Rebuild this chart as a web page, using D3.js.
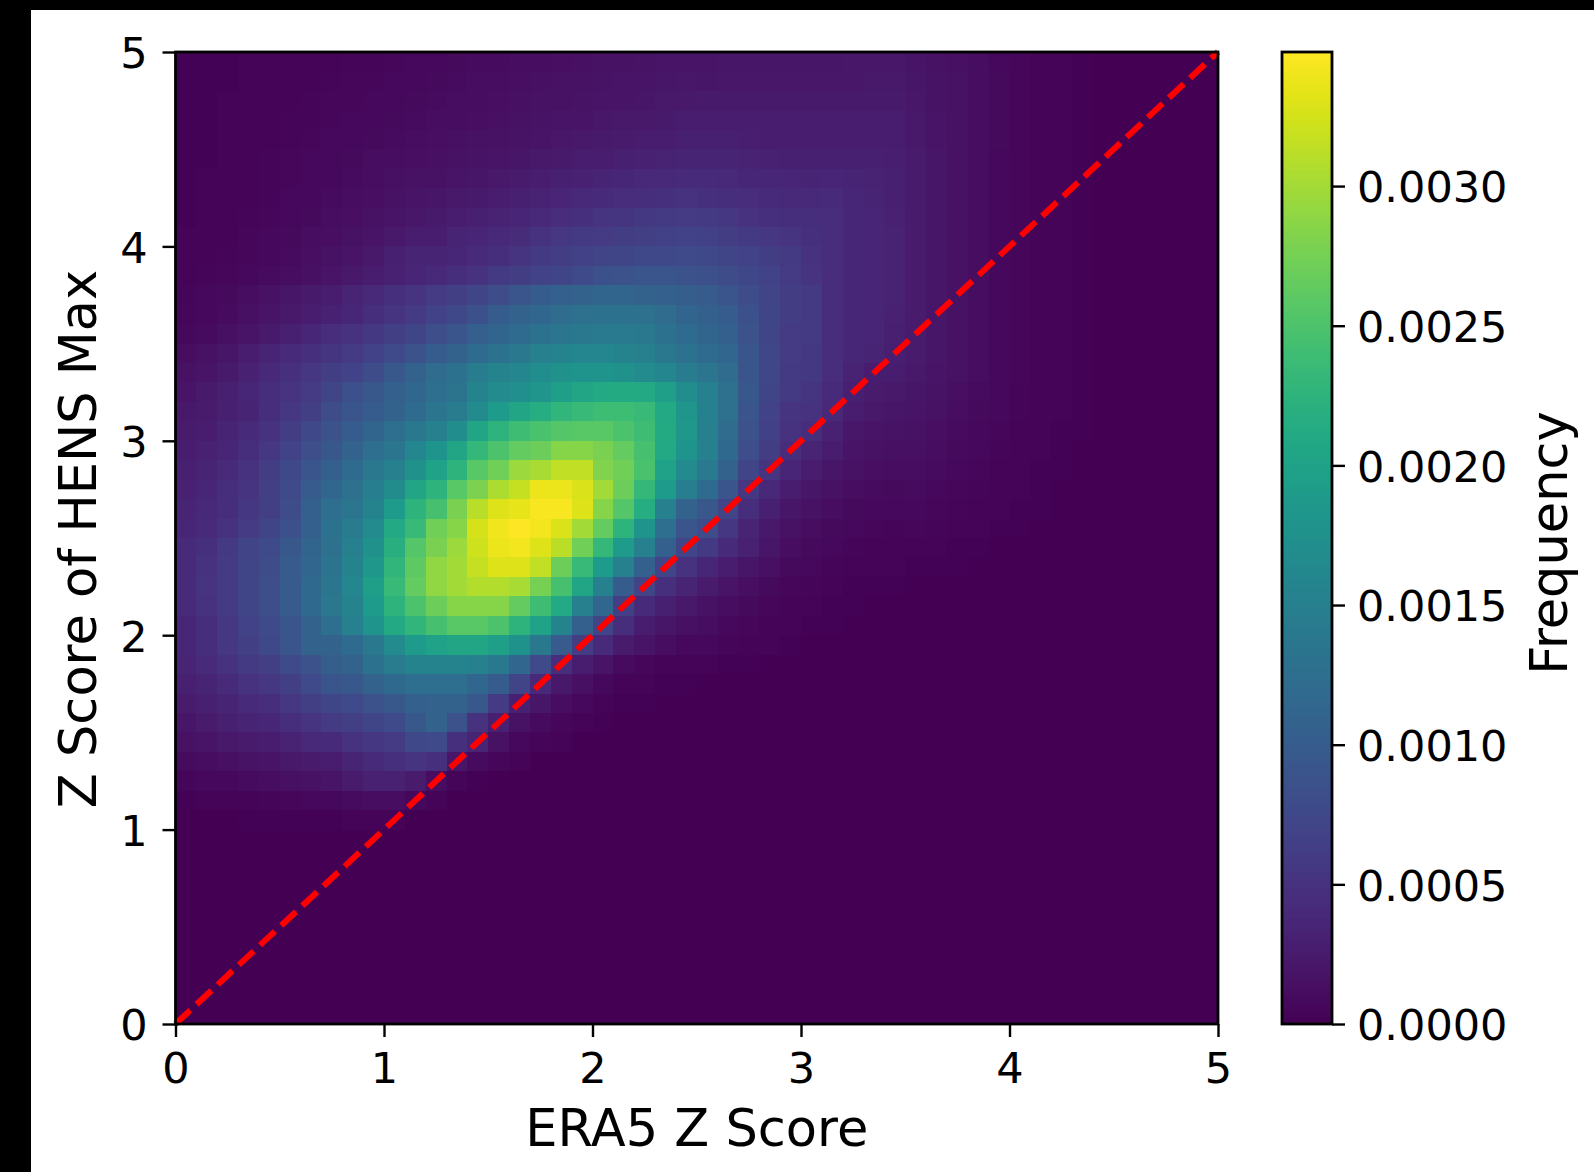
<!DOCTYPE html>
<html>
  <head>
    <meta charset="utf-8">
    <title>HENS Max vs ERA5 Z Score</title>
    <style>
      html, body { margin: 0; padding: 0; background: #fff; }
      svg { display: block; }
      text { font-family: "DejaVu Sans", sans-serif; fill: #000; }
    </style>
  </head>
  <body>
    <div id="chart"></div>

    <script src="https://d3js.org/d3.v7.min.js"></script>
    <script>
      // bin edges, 0.1 wide, 50 per axis
      const binStarts = d3.range(50).map(i => i / 10);
      const axisTicks = [0, 1, 2, 3, 4, 5];
      const colorTicks = [0, 0.0005, 0.001, 0.0015, 0.002, 0.0025, 0.003];
      const colorMax = 0.00348;
      const freqUnit = 1e-5;

      // frequency in units of 1e-5, first row is the top of the plot
      const freqRows = [
        [2,2,2,3,3,3,4,4,5,5,6,7,8,9,10,10,11,12,13,14,15,16,17,18,18,18,20,20,20,20,20,20,21,21,21,19,16,14,11,8,6,4,3,2,1,1,0,0,0,0],
        [2,2,2,3,3,4,4,5,6,6,7,8,9,10,11,12,13,14,15,16,17,18,19,20,21,20,21,21,21,21,21,21,21,22,22,20,17,15,12,9,6,4,3,2,1,1,0,0,0,0],
        [2,2,3,3,4,4,5,6,6,7,8,9,10,11,12,13,14,15,16,17,18,19,20,22,23,24,24,24,24,24,24,24,24,24,24,21,17,15,12,9,6,4,3,2,1,1,0,0,0,0],
        [2,2,3,3,4,5,5,6,7,8,9,10,11,12,13,14,15,17,18,19,21,22,23,24,26,26,26,26,26,26,26,27,27,27,26,22,18,15,12,9,6,4,3,2,1,1,0,0,0,0],
        [2,2,3,4,4,5,6,7,8,9,10,11,13,14,15,16,17,19,21,22,24,25,26,28,30,30,30,29,28,28,28,28,28,28,28,23,19,16,12,9,6,4,3,2,1,1,0,0,0,0],
        [2,2,3,4,5,6,7,8,9,11,12,13,14,16,17,18,20,22,24,26,28,30,32,33,35,35,34,33,32,31,31,31,31,31,29,25,20,16,12,8,6,4,3,2,1,1,0,0,0,0],
        [2,3,3,4,5,6,7,8,10,12,14,15,16,18,20,22,25,27,30,32,35,37,39,40,42,42,40,38,37,36,35,36,34,33,31,25,20,16,12,8,6,4,3,2,1,1,0,0,0,0],
        [2,3,4,4,5,7,8,10,12,13,16,18,20,22,24,27,30,33,36,39,42,44,46,48,50,48,46,44,42,40,40,42,37,35,31,25,20,16,12,8,6,4,3,2,1,1,0,0,0,0],
        [2,3,4,5,6,8,9,11,13,15,18,21,24,28,30,33,36,40,44,48,52,54,56,58,60,58,55,50,48,46,45,44,38,36,32,25,20,16,12,8,6,4,3,2,1,1,0,0,0,0],
        [3,3,4,6,7,9,12,13,15,18,22,26,28,34,36,40,43,50,55,58,60,62,65,66,68,66,62,58,55,52,48,44,38,36,33,25,20,16,12,8,6,4,3,2,1,1,0,0,0,0],
        [3,4,5,6,8,10,13,15,18,22,30,34,35,38,42,46,52,58,62,66,70,72,75,76,78,76,72,68,62,58,50,44,38,36,33,25,20,16,12,8,6,4,3,2,1,1,0,0,0,0],
        [4,5,6,8,10,12,14,18,22,28,32,36,40,45,50,58,62,68,72,78,85,88,90,92,88,85,80,74,68,60,52,44,38,36,33,25,20,16,12,8,6,4,3,2,1,1,0,0,0,0],
        [5,7,9,12,15,20,24,28,35,40,48,52,60,65,72,80,92,100,105,108,112,112,110,105,102,98,92,80,70,62,58,44,38,36,33,25,20,16,12,8,6,4,3,2,1,1,0,0,0,0],
        [6,8,10,14,18,22,28,32,38,45,52,60,68,75,85,100,110,115,122,128,130,130,128,122,112,105,100,85,72,62,58,44,38,36,32,25,20,16,12,8,6,4,3,2,1,1,0,0,0,0],
        [8,10,14,18,24,30,38,44,50,56,64,72,82,92,104,112,120,130,135,140,142,142,140,130,120,112,105,88,72,60,58,44,38,36,30,25,20,16,12,8,6,4,3,2,1,1,0,0,0,0],
        [12,15,20,26,35,42,48,54,60,68,78,88,100,110,120,130,140,150,155,160,160,155,150,140,130,120,115,90,74,60,56,44,37,34,29,25,20,16,12,8,6,4,3,2,1,1,0,0,0,0],
        [15,18,24,32,40,48,55,62,68,80,95,108,122,130,145,155,160,170,175,180,180,175,165,160,145,135,122,92,74,58,56,44,33,28,26,23,19,15,11,8,6,4,3,2,1,1,0,0,0,0],
        [18,24,30,38,46,52,60,72,85,95,105,115,125,132,155,165,172,182,195,205,210,212,210,195,170,150,128,95,72,58,54,42,30,25,22,20,17,13,10,7,5,4,3,2,1,1,0,0,0,0],
        [22,25,30,35,45,55,65,80,90,100,110,120,135,145,165,190,205,215,228,235,238,238,235,210,182,150,128,92,68,52,50,40,26,22,20,18,15,12,9,7,5,4,3,2,1,1,0,0,0,0],
        [25,28,35,42,50,62,75,88,100,112,125,140,150,170,205,225,240,248,255,258,258,250,240,212,185,150,122,88,66,50,45,32,21,19,17,16,13,10,8,6,4,3,2,2,1,1,0,0,0,0],
        [28,32,38,45,55,68,82,95,110,125,135,160,180,205,232,250,265,270,285,285,278,265,245,210,180,150,118,82,62,44,35,26,18,16,14,14,11,9,7,5,4,3,2,1,1,0,0,0,0,0],
        [30,35,42,50,62,75,90,105,120,140,150,175,200,225,258,272,295,302,315,315,282,272,248,200,165,142,108,72,52,36,28,20,15,13,12,12,10,8,6,4,3,2,2,1,1,0,0,0,0,0],
        [32,38,45,52,65,78,98,115,128,148,168,205,225,258,280,305,318,338,338,328,300,270,232,190,148,120,90,55,40,26,20,15,12,10,9,10,8,6,5,4,3,2,1,1,0,0,0,0,0,0],
        [35,40,45,55,65,80,105,125,135,155,190,225,245,278,310,330,335,345,345,330,285,255,215,150,110,95,70,45,30,20,15,11,9,8,7,8,6,5,4,3,2,2,1,1,0,0,0,0,0,0],
        [38,42,50,60,72,85,105,130,145,165,210,235,272,285,325,340,348,342,328,300,265,225,180,125,92,80,55,35,22,15,11,9,7,6,5,6,5,4,3,2,2,1,1,0,0,0,0,0,0,0],
        [42,48,58,70,78,95,112,128,150,175,220,255,278,295,322,338,342,330,312,272,232,190,150,105,72,58,42,32,20,12,9,7,5,4,4,3,3,2,2,1,1,0,0,0,0,0,0,0,0,0],
        [42,50,60,72,80,98,115,132,155,185,228,262,290,300,318,330,330,315,270,235,190,150,105,72,50,38,28,20,14,9,7,5,4,3,3,2,2,2,1,1,1,1,0,0,0,0,0,0,0,0],
        [42,52,60,72,82,98,118,135,160,195,235,265,290,300,308,308,302,275,245,205,150,100,70,48,35,25,18,13,9,6,5,3,2,2,2,1,1,1,1,0,0,0,0,0,0,0,0,0,0,0],
        [42,50,60,72,82,98,118,138,155,190,225,250,270,285,285,285,265,240,210,150,115,65,42,30,22,16,12,9,6,4,3,2,2,1,1,1,1,0,0,0,0,0,0,0,0,0,0,0,0,0],
        [38,45,55,68,78,90,108,125,150,180,210,228,245,258,258,250,225,200,155,105,70,45,28,20,14,11,8,6,4,3,2,2,1,1,1,0,0,0,0,0,0,0,0,0,0,0,0,0,0,0],
        [38,45,55,65,75,90,108,110,120,140,165,190,200,205,205,195,178,140,98,62,42,25,18,12,8,7,5,4,3,2,1,1,1,0,0,0,0,0,0,0,0,0,0,0,0,0,0,0,0,0],
        [35,42,50,58,65,78,88,102,110,130,145,155,155,155,150,140,115,78,45,28,18,10,6,4,3,3,2,2,1,1,1,0,0,0,0,0,0,0,0,0,0,0,0,0,0,0,0,0,0,0],
        [30,35,42,50,55,65,78,90,95,110,118,125,125,125,115,100,70,40,22,14,8,4,3,2,2,1,1,1,1,0,0,0,0,0,0,0,0,0,0,0,0,0,0,0,0,0,0,0,0,0],
        [25,30,35,42,45,55,65,72,78,88,95,105,108,108,95,60,30,20,12,8,4,2,2,1,1,1,1,0,0,0,0,0,0,0,0,0,0,0,0,0,0,0,0,0,0,0,0,0,0,0],
        [20,25,30,35,38,45,52,60,65,72,78,95,108,88,50,30,15,10,6,3,2,1,1,1,0,0,0,0,0,0,0,0,0,0,0,0,0,0,0,0,0,0,0,0,0,0,0,0,0,0],
        [15,18,22,25,28,33,40,42,50,55,60,75,78,48,35,15,8,5,3,1,1,0,0,0,0,0,0,0,0,0,0,0,0,0,0,0,0,0,0,0,0,0,0,0,0,0,0,0,0,0],
        [10,12,14,17,18,22,25,28,35,42,48,52,48,20,10,6,3,1,1,0,0,0,0,0,0,0,0,0,0,0,0,0,0,0,0,0,0,0,0,0,0,0,0,0,0,0,0,0,0,0],
        [5,7,8,10,12,14,16,18,25,32,32,25,12,5,2,1,0,0,0,0,0,0,0,0,0,0,0,0,0,0,0,0,0,0,0,0,0,0,0,0,0,0,0,0,0,0,0,0,0,0],
        [2,3,3,4,5,6,7,8,10,12,12,8,3,1,0,0,0,0,0,0,0,0,0,0,0,0,0,0,0,0,0,0,0,0,0,0,0,0,0,0,0,0,0,0,0,0,0,0,0,0],
        [1,1,1,2,2,2,2,2,3,3,3,1,0,0,0,0,0,0,0,0,0,0,0,0,0,0,0,0,0,0,0,0,0,0,0,0,0,0,0,0,0,0,0,0,0,0,0,0,0,0],
        [0,1,1,1,1,1,1,0,0,0,0,0,0,0,0,0,0,0,0,0,0,0,0,0,0,0,0,0,0,0,0,0,0,0,0,0,0,0,0,0,0,0,0,0,0,0,0,0,0,0],
        [0,0,0,0,0,0,0,0,0,0,0,0,0,0,0,0,0,0,0,0,0,0,0,0,0,0,0,0,0,0,0,0,0,0,0,0,0,0,0,0,0,0,0,0,0,0,0,0,0,0],
        [0,0,0,0,0,0,0,0,0,0,0,0,0,0,0,0,0,0,0,0,0,0,0,0,0,0,0,0,0,0,0,0,0,0,0,0,0,0,0,0,0,0,0,0,0,0,0,0,0,0],
        [0,0,0,0,0,0,0,0,0,0,0,0,0,0,0,0,0,0,0,0,0,0,0,0,0,0,0,0,0,0,0,0,0,0,0,0,0,0,0,0,0,0,0,0,0,0,0,0,0,0],
        [0,0,0,0,0,0,0,0,0,0,0,0,0,0,0,0,0,0,0,0,0,0,0,0,0,0,0,0,0,0,0,0,0,0,0,0,0,0,0,0,0,0,0,0,0,0,0,0,0,0],
        [0,0,0,0,0,0,0,0,0,0,0,0,0,0,0,0,0,0,0,0,0,0,0,0,0,0,0,0,0,0,0,0,0,0,0,0,0,0,0,0,0,0,0,0,0,0,0,0,0,0],
        [0,0,0,0,0,0,0,0,0,0,0,0,0,0,0,0,0,0,0,0,0,0,0,0,0,0,0,0,0,0,0,0,0,0,0,0,0,0,0,0,0,0,0,0,0,0,0,0,0,0],
        [0,0,0,0,0,0,0,0,0,0,0,0,0,0,0,0,0,0,0,0,0,0,0,0,0,0,0,0,0,0,0,0,0,0,0,0,0,0,0,0,0,0,0,0,0,0,0,0,0,0],
        [0,0,0,0,0,0,0,0,0,0,0,0,0,0,0,0,0,0,0,0,0,0,0,0,0,0,0,0,0,0,0,0,0,0,0,0,0,0,0,0,0,0,0,0,0,0,0,0,0,0],
        [0,0,0,0,0,0,0,0,0,0,0,0,0,0,0,0,0,0,0,0,0,0,0,0,0,0,0,0,0,0,0,0,0,0,0,0,0,0,0,0,0,0,0,0,0,0,0,0,0,0]
      ];

      const fullWidth = 1594, fullHeight = 1172;
      const plot = {left: 175.5, right: 1218, top: 52, bottom: 1024};
      const bar = {left: 1282, right: 1332};
      const spine = 2.8, tickLen = 13, tickSize = 43, labelSize = 51;

      const svg = d3.select('#chart').append('svg')
        .attr('width', fullWidth)
        .attr('height', fullHeight);

      // the black strips around the screenshot
      svg.append('rect').attr('width', 31).attr('height', fullHeight).attr('fill', '#000');
      svg.append('rect').attr('width', fullWidth).attr('height', 10).attr('fill', '#000');

      let x = d3.scaleLinear().domain([0, 5]).range([plot.left, plot.right]);
      let y = d3.scaleLinear().domain([0, 5]).range([plot.bottom, plot.top]);
      let color = d3.scaleSequential(d3.interpolateViridis).domain([0, colorMax]);
      let barY = d3.scaleLinear().domain([0, colorMax]).range([plot.bottom, plot.top]);

      // heatmap
      let cells = [];
      freqRows.forEach((row, r) => {
        row.forEach((v, c) => {
          cells.push({x0: binStarts[c], y0: binStarts[49 - r], value: v * freqUnit});
        });
      });

      svg.append('g')
        .attr('class', 'cells')
        .attr('shape-rendering', 'crispEdges')
        .selectAll('rect')
        .data(cells)
        .enter()
        .append('rect')
        .attr('x', d => x(d.x0))
        .attr('y', d => y(d.y0 + 0.1))
        .attr('width', d => x(d.x0 + 0.1) - x(d.x0) + 0.5)
        .attr('height', d => y(d.y0) - y(d.y0 + 0.1) + 0.5)
        .attr('fill', d => color(d.value));

      // identity line
      svg.append('path')
        .datum([0, 5])
        .attr('d', d3.line().x(d => x(d)).y(d => y(d)))
        .attr('fill', 'none')
        .attr('stroke', '#ff0000')
        .attr('stroke-width', 6)
        .attr('stroke-dasharray', '20.2 8.7');

      // axes
      function styleAxis(g) {
        g.selectAll('.tick line').attr('stroke', '#000').attr('stroke-width', spine - 0.4);
        g.selectAll('.tick text')
          .attr('fill', '#000')
          .style('font-size', tickSize + 'px')
          .style('font-family', '"DejaVu Sans", sans-serif');
        g.select('.domain').remove();
      }

      svg.append('g')
        .attr('transform', `translate(0, ${plot.bottom})`)
        .call(d3.axisBottom(x).tickValues(axisTicks).tickFormat(d3.format('d')).tickSize(tickLen).tickPadding(15))
        .call(styleAxis);

      svg.append('g')
        .attr('transform', `translate(${plot.left}, 0)`)
        .call(d3.axisLeft(y).tickValues(axisTicks).tickFormat(d3.format('d')).tickSize(tickLen).tickPadding(15))
        .call(styleAxis)
        .selectAll('.tick text').attr('dy', '0.37em');

      svg.append('rect')
        .attr('x', plot.left)
        .attr('y', plot.top)
        .attr('width', plot.right - plot.left)
        .attr('height', plot.bottom - plot.top)
        .attr('fill', 'none')
        .attr('stroke', '#000')
        .attr('stroke-width', spine);

      svg.append('text')
        .attr('x', (plot.left + plot.right) / 2)
        .attr('y', 1146)
        .attr('text-anchor', 'middle')
        .style('font-size', labelSize + 'px')
        .text('ERA5 Z Score');

      svg.append('text')
        .attr('transform', `translate(96, ${(plot.top + plot.bottom) / 2 + 1}) rotate(-90)`)
        .attr('text-anchor', 'middle')
        .style('font-size', labelSize + 'px')
        .text('Z Score of HENS Max');

      // colorbar
      let barSteps = d3.range(0, 256);
      svg.append('g')
        .attr('shape-rendering', 'crispEdges')
        .selectAll('rect')
        .data(barSteps)
        .enter()
        .append('rect')
        .attr('x', bar.left)
        .attr('y', d => barY((d + 1) / 256 * colorMax))
        .attr('width', bar.right - bar.left)
        .attr('height', (plot.bottom - plot.top) / 256 + 0.5)
        .attr('fill', d => color((d + 0.5) / 256 * colorMax));

      svg.append('g')
        .attr('transform', `translate(${bar.right}, 0)`)
        .call(d3.axisRight(barY).tickValues(colorTicks).tickFormat(d3.format('.4f')).tickSize(tickLen).tickPadding(12))
        .call(styleAxis)
        .selectAll('.tick text').attr('dy', '0.37em');

      svg.append('rect')
        .attr('x', bar.left)
        .attr('y', plot.top)
        .attr('width', bar.right - bar.left)
        .attr('height', plot.bottom - plot.top)
        .attr('fill', 'none')
        .attr('stroke', '#000')
        .attr('stroke-width', spine);

      svg.append('text')
        .attr('transform', `translate(1567, 543) rotate(-90)`)
        .attr('text-anchor', 'middle')
        .style('font-size', labelSize + 'px')
        .text('Frequency');
    </script>
  </body>
</html>
